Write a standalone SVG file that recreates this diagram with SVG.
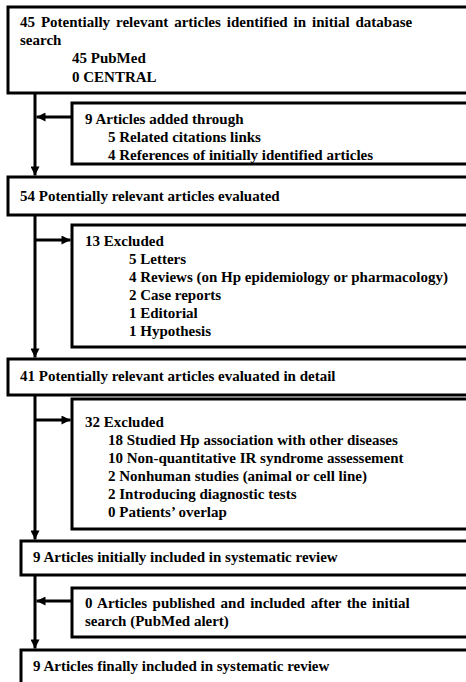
<svg xmlns="http://www.w3.org/2000/svg" width="466" height="682" viewBox="0 0 466 682">
<style>
.box{fill:#fff;stroke:#000;stroke-width:3}
.ln{fill:none;stroke:#000;stroke-width:3}
text{font-family:"Liberation Serif","Times New Roman",serif;font-weight:bold;font-size:15px;fill:#000}
</style>
<defs>
<marker id="ah" viewBox="0 0 10 10" refX="10" refY="5" markerWidth="10" markerHeight="9" markerUnits="userSpaceOnUse" orient="auto">
<path d="M0,0 L10,5 L0,10 z" fill="#000"/>
</marker>
</defs>
<rect width="466" height="682" fill="#fff"/>
<g id="connectors">
<path class="ln" d="M35,93 V175.5" marker-end="url(#ah)"/>
<path class="ln" d="M72,117 H36.5" marker-end="url(#ah)"/>
<path class="ln" d="M35,215 V357.5" marker-end="url(#ah)"/>
<path class="ln" d="M35,240 H70.5" marker-end="url(#ah)"/>
<path class="ln" d="M35,395 V539.5" marker-end="url(#ah)"/>
<path class="ln" d="M35,420 H70.5" marker-end="url(#ah)"/>
<path class="ln" d="M35,575 V648.5" marker-end="url(#ah)"/>
<path class="ln" d="M72,601 H36.5" marker-end="url(#ah)"/>
</g>
<g id="n1">
<rect class="box" x="8" y="7" width="480" height="86"/>
<text x="20" y="27" word-spacing="2.2">45 Potentially relevant articles identified in initial database</text>
<text x="20" y="45">search</text>
<text x="72" y="63">45 PubMed</text>
<text x="72" y="82">0 CENTRAL</text>
</g>
<g id="n2">
<rect class="box" x="72" y="103" width="420" height="61"/>
<text x="85" y="124">9 Articles added through</text>
<text x="108" y="142">5 Related citations links</text>
<text x="108" y="160">4 References of initially identified articles</text>
</g>
<g id="n3">
<rect class="box" x="8" y="177" width="480" height="38"/>
<text x="20" y="201">54 Potentially relevant articles evaluated</text>
</g>
<g id="n4">
<rect class="box" x="72" y="225" width="420" height="122"/>
<text x="85" y="246">13 Excluded</text>
<text x="129" y="264">5 Letters</text>
<text x="129" y="282">4 Reviews (on Hp epidemiology or pharmacology)</text>
<text x="129" y="300">2 Case reports</text>
<text x="129" y="318">1 Editorial</text>
<text x="129" y="336">1 Hypothesis</text>
</g>
<g id="n5">
<rect class="box" x="8" y="359" width="480" height="36"/>
<text x="20" y="381">41 Potentially relevant articles evaluated in detail</text>
</g>
<g id="n6">
<rect class="box" x="72" y="399" width="420" height="130"/>
<text x="85" y="427">32 Excluded</text>
<text x="108" y="445">18 Studied Hp association with other diseases</text>
<text x="108" y="463">10 Non-quantitative IR syndrome assessement</text>
<text x="108" y="481">2 Nonhuman studies (animal or cell line)</text>
<text x="108" y="499">2 Introducing diagnostic tests</text>
<text x="108" y="517">0 Patients’ overlap</text>
</g>
<g id="n7">
<rect class="box" x="21" y="541" width="470" height="34"/>
<text x="33" y="562">9 Articles initially included in systematic review</text>
</g>
<g id="n8">
<rect class="box" x="72" y="588" width="420" height="49"/>
<text x="85" y="608" word-spacing="1.7">0 Articles published and included after the initial</text>
<text x="85" y="626">search (PubMed alert)</text>
</g>
<g id="n9">
<rect class="box" x="21" y="650" width="470" height="60"/>
<text x="33" y="671">9 Articles finally included in systematic review</text>
</g>
</svg>
